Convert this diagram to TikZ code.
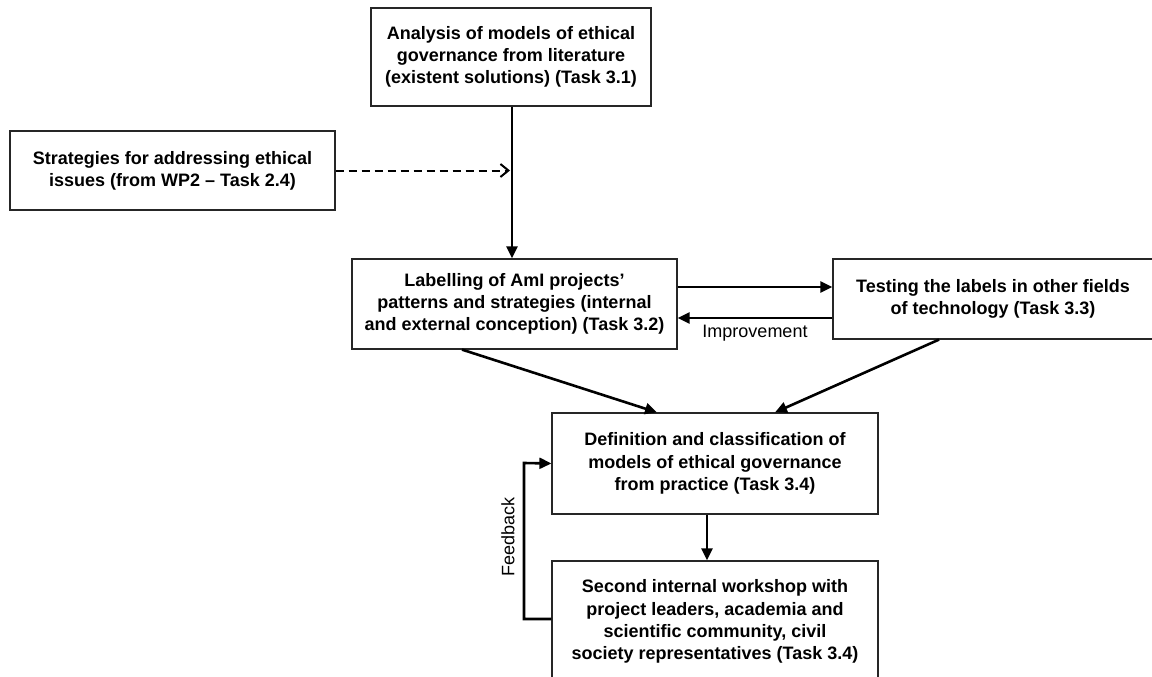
\documentclass[tikz,border=0pt]{standalone}
\usepackage{fontspec}
\setmainfont{Liberation Sans}
\usetikzlibrary{arrows.meta}
\begin{document}
\begin{tikzpicture}[x=1pt,y=-1pt,
  box/.style={draw=black!85, line width=1.2pt, align=center, inner sep=0pt,
    font=\fontsize{18}{22.3}\selectfont\bfseries},
  conn/.style={line width=2.6pt, -{Triangle[length=12pt,width=11pt]}},
  dconn/.style={line width=2pt, dash pattern=on 8pt off 5pt, -{Straight Barb[length=8pt,width=13pt,line width=2pt]}},
  lbl/.style={font=\fontsize{18}{22.3}\selectfont, inner sep=0pt}]
\useasboundingbox (0,0) rectangle (1152,677);
\fill[white] (0,0) rectangle (1152,677);
\node[box, minimum width=280pt, minimum height=98pt] (top) at (511,57)
  {Analysis of models of ethical\\governance from literature\\(existent solutions) (Task 3.1)};
\node[box, minimum width=325pt, minimum height=79pt] (strat) at (172.5,170.5)
  {Strategies for addressing ethical\\issues (from WP2 -- Task 2.4)};
\node[box, minimum width=325pt, minimum height=90pt] (label) at (514.5,304)
  {Labelling of AmI projects'\\patterns and strategies (internal\\and external conception) (Task 3.2)};
\node[box, minimum width=320pt, minimum height=80pt] (test) at (993,299)
  {Testing the labels in other fields\\of technology (Task 3.3)};
\node[box, minimum width=326pt, minimum height=101pt] (def) at (715,463.5)
  {Definition and classification of\\models of ethical governance\\from practice (Task 3.4)};
\node[box, minimum width=326pt, minimum height=121pt] (second) at (715,621.5)
  {Second internal workshop with\\project leaders, academia and\\scientific community, civil\\society representatives (Task 3.4)};
% connectors
\draw[conn] ([xshift=1pt]top.south) -- ([xshift=1pt]top.south |- label.north) coordinate (vend);
\coordinate (vmid) at ([xshift=1pt]top.south |- strat.east);
\draw[dconn] (strat.east) -- ([xshift=-2pt]vmid);
\draw[conn] ([yshift=17pt]label.east) -- ([yshift=12pt]test.west);
\draw[conn] ([yshift=-19pt]test.west) -- ([yshift=-14pt]label.east)
  node[lbl, pos=0.5, below=6pt] {Improvement};
\draw[conn] ([xshift=-52.5pt]label.south) -- ([xshift=-58pt]def.north);
\draw[conn] ([xshift=-54pt]test.south) -- ([xshift=60pt]def.north);
\draw[conn] ([xshift=-8pt]def.south) -- ([xshift=-8pt]def.south |- second.north);
\coordinate (fbtop) at (524,463);
\draw[conn] ([yshift=2.5pt]second.west) -| (fbtop) -- (def.west);
\node[lbl, rotate=90] (fb) at (508,537) {Feedback};
\end{tikzpicture}
\end{document}
